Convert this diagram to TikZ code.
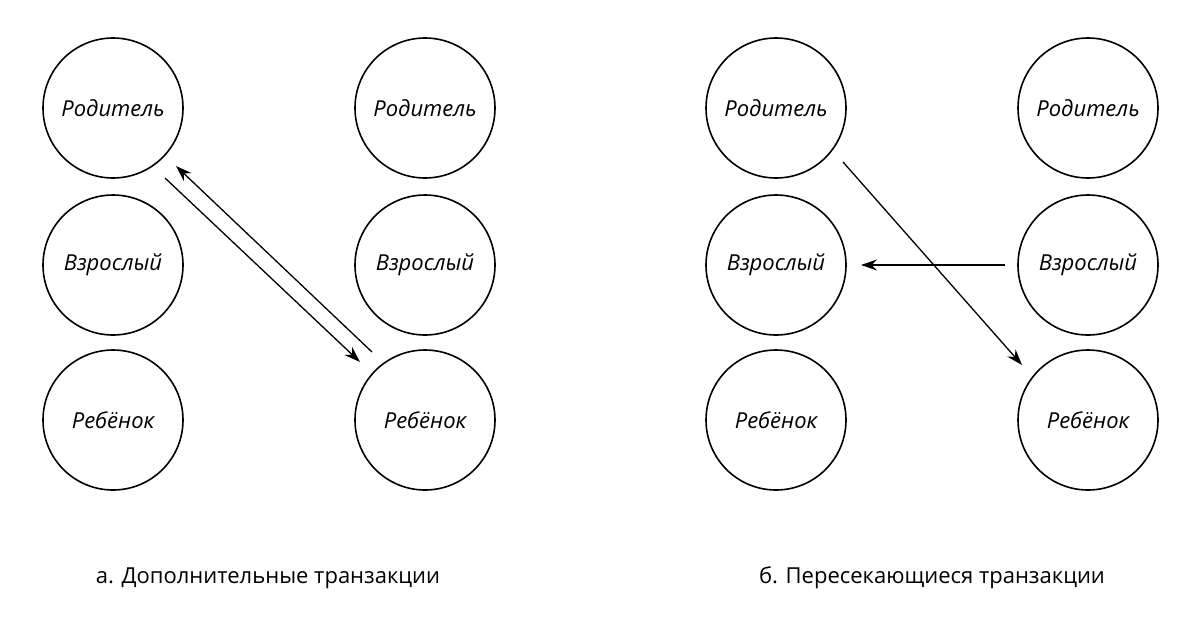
\documentclass[tikz,border=0pt]{standalone}
\usepackage{fontspec}
\setmainfont{Open Sans}
\usetikzlibrary{arrows.meta}
\begin{document}
\begin{tikzpicture}[x=1pt,y=-1pt,
  st/.style={circle,draw,line width=1.6pt,minimum size=140pt,inner sep=0pt,font=\fontsize{22}{26}\selectfont\itshape},
  ar/.style={line width=1.3pt,-{Stealth[length=16pt,width=11pt]}},
  captext/.style={font=\fontsize{22}{26}\selectfont}]
\useasboundingbox (0,0) rectangle (1200,630);
\node[st] (p1) at (113,108) {Родитель};
\node[st] (a1) at (113,265) {Взрослый};
\node[st] (c1) at (113,420) {Ребёнок};
\node[st] (p2) at (425,108) {Родитель};
\node[st] (a2) at (425,265) {Взрослый};
\node[st] (c2) at (425,420) {Ребёнок};
\node[st] (p3) at (776,108) {Родитель};
\node[st] (a3) at (776,265) {Взрослый};
\node[st] (c3) at (776,420) {Ребёнок};
\node[st] (p4) at (1088,108) {Родитель};
\node[st] (a4) at (1088,265) {Взрослый};
\node[st] (c4) at (1088,420) {Ребёнок};
\coordinate (s1) at (165,178); \coordinate (e1) at (360,362);
\coordinate (s2) at (372,352); \coordinate (e2) at (176,166);
\draw[ar] (s1) -- (e1);
\draw[ar] (s2) -- (e2);
\coordinate (s3) at (843,162); \coordinate (e3) at (1022,365);
\coordinate (s4) at (1005,265); \coordinate (e4) at (861,265);
\draw[ar] (s3) -- (e3);
\draw[ar] (s4) -- (e4);
\node[captext] (t1) at (268,578) {а. Дополнительные транзакции};
\node[captext] (t2) at (932,578) {б. Пересекающиеся транзакции};
\end{tikzpicture}
\end{document}
